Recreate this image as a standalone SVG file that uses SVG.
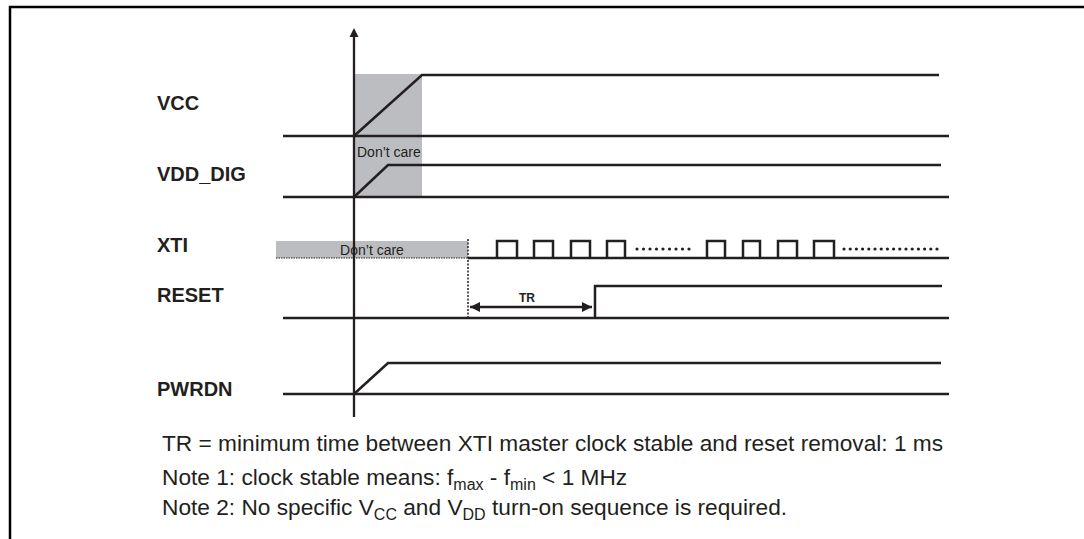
<svg xmlns="http://www.w3.org/2000/svg" width="1084" height="539" viewBox="0 0 1084 539">
<defs>
<style>
.sig{fill:none;stroke:#231f20;stroke-width:2.5;stroke-linejoin:miter;stroke-linecap:butt}
.base{fill:none;stroke:#231f20;stroke-width:2.3}
.lbl{font-family:"Liberation Sans",Arial,sans-serif;font-weight:bold;font-size:20px;fill:#231f20}
.note{font-family:"Liberation Sans",Arial,sans-serif;font-size:22.7px;fill:#231f20}
.sub{font-size:16px}
.dc{font-family:"Liberation Sans",Arial,sans-serif;font-size:14px;fill:#231f20}
.gray{fill:#bcbdc0}
.dot{fill:#231f20}
</style>
<marker id="ah" viewBox="0 0 10 10" refX="10" refY="5" markerWidth="11" markerHeight="10" markerUnits="userSpaceOnUse" orient="auto-start-reverse">
<path d="M0,0 L10,5 L0,10 z" fill="#231f20"/>
</marker>
</defs>
<rect width="1084" height="539" fill="#ffffff"/>
<g id="frame">
<path d="M10,539 V7 H1084" fill="none" stroke="#000" stroke-width="2.5"/>
</g>
<g id="shading">
<rect class="gray" x="355" y="74" width="67" height="123"/>
<rect class="gray" x="276" y="241" width="192" height="17"/>
</g>
<g id="axis">
<line x1="354" y1="36" x2="354" y2="417" stroke="#231f20" stroke-width="2.3"/>
<path d="M349.5,37 L354,28 L358.5,37 z" fill="#231f20"/>
</g>
<g id="connectors">
<g id="vcc">
<text class="lbl" x="157" y="110">VCC</text>
<line class="base" x1="283" y1="136" x2="949" y2="136"/>
<path class="sig" d="M354,136 L422,75 H939"/>
<text class="dc" x="357" y="157">Don’t care</text>
</g>
<g id="vdd_dig">
<text class="lbl" x="157" y="181">VDD_DIG</text>
<line class="base" x1="283" y1="197" x2="949" y2="197"/>
<path class="sig" d="M354,197 L388,165 H941"/>
</g>
<g id="xti">
<text class="lbl" x="157" y="252">XTI</text>
<text class="dc" x="372" y="255" text-anchor="middle">Don’t care</text>
<line x1="276" y1="258" x2="468" y2="258" stroke="#231f20" stroke-width="1" stroke-dasharray="1.5,1"/>
<line x1="468" y1="239" x2="468" y2="318" stroke="#231f20" stroke-width="1.5" stroke-dasharray="2,1.5"/>
<line class="base" x1="468" y1="258" x2="949" y2="258"/>
<path class="sig" d="M497,258 V241 H517 V258 M534,258 V241 H553 V258 M571,258 V241 H590 V258 M607,258 V241 H625 V258"/>
<path class="sig" d="M707,258 V241 H725 V258 M743,258 V241 H760 V258 M778,258 V241 H797 V258 M814,258 V241 H834 V258"/>
<g class="dot">
<circle cx="637" cy="249" r="1.6"/><circle cx="643.5" cy="249" r="1.6"/><circle cx="650" cy="249" r="1.6"/><circle cx="656.5" cy="249" r="1.6"/><circle cx="663" cy="249" r="1.6"/><circle cx="669.5" cy="249" r="1.6"/><circle cx="676" cy="249" r="1.6"/><circle cx="682.5" cy="249" r="1.6"/><circle cx="689" cy="249" r="1.6"/>
<circle cx="844" cy="249" r="1.6"/><circle cx="850.2" cy="249" r="1.6"/><circle cx="856.4" cy="249" r="1.6"/><circle cx="862.6" cy="249" r="1.6"/><circle cx="868.8" cy="249" r="1.6"/><circle cx="875" cy="249" r="1.6"/><circle cx="881.2" cy="249" r="1.6"/><circle cx="887.4" cy="249" r="1.6"/><circle cx="893.6" cy="249" r="1.6"/><circle cx="899.8" cy="249" r="1.6"/><circle cx="906" cy="249" r="1.6"/><circle cx="912.2" cy="249" r="1.6"/><circle cx="918.4" cy="249" r="1.6"/><circle cx="924.6" cy="249" r="1.6"/><circle cx="930.8" cy="249" r="1.6"/><circle cx="937" cy="249" r="1.6"/>
</g>
</g>
<g id="reset">
<text class="lbl" x="157" y="302">RESET</text>
<line class="base" x1="283" y1="318" x2="949" y2="318"/>
<path class="sig" d="M595,318 V286 H942"/>
<line x1="470" y1="307" x2="592" y2="307" stroke="#231f20" stroke-width="2.5" marker-start="url(#ah)" marker-end="url(#ah)"/>
<text x="527" y="302" text-anchor="middle" font-family="Liberation Sans, Arial, sans-serif" font-weight="bold" font-size="12" fill="#231f20">TR</text>
</g>
<g id="pwrdn">
<text class="lbl" x="157" y="396">PWRDN</text>
<line class="base" x1="283" y1="394" x2="949" y2="394"/>
<path class="sig" d="M354,394 L388,363 H941"/>
</g>
</g>
<g id="notes">
<text class="note" x="162" y="451">TR = minimum time between XTI master clock stable and reset removal: 1 ms</text>
<text class="note" x="162" y="485">Note 1: clock stable means: f<tspan class="sub" dy="5">max</tspan><tspan dy="-5"> - f</tspan><tspan class="sub" dy="5">min</tspan><tspan dy="-5"> &lt; 1 MHz</tspan></text>
<text class="note" x="162" y="515">Note 2: No specific V<tspan class="sub" dy="5">CC</tspan><tspan dy="-5"> and V</tspan><tspan class="sub" dy="5">DD</tspan><tspan dy="-5"> turn-on sequence is required.</tspan></text>
</g>
</svg>
